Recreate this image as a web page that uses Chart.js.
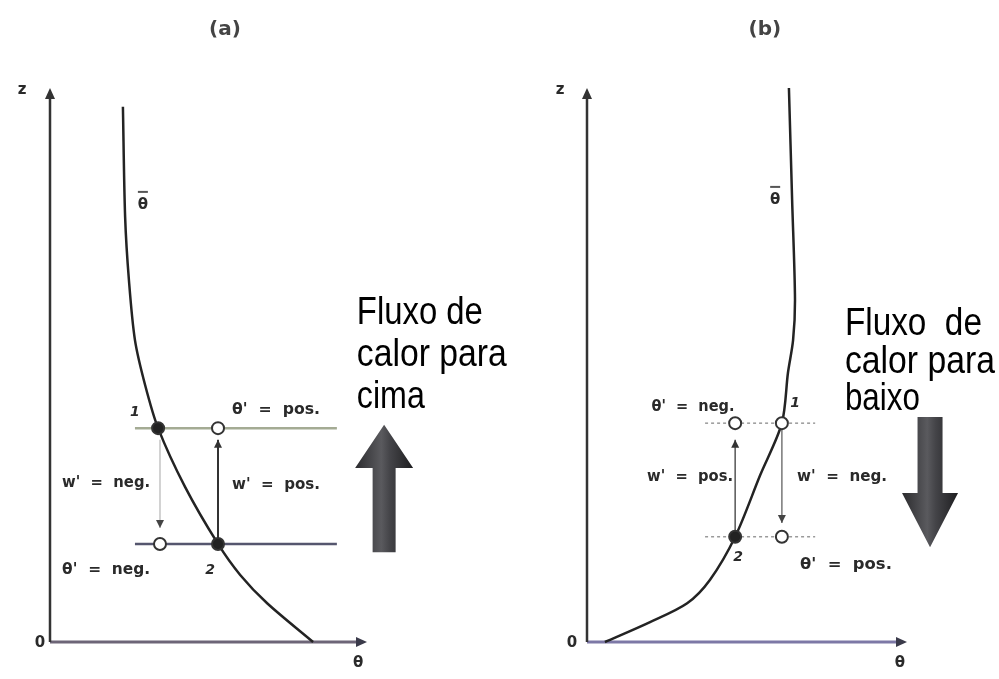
<!DOCTYPE html>
<html lang="pt">
<head>
<meta charset="utf-8">
<title>Fluxo de calor</title>
<script src="https://cdn.jsdelivr.net/npm/chart.js@4.4.1/dist/chart.umd.min.js"></script>
<style>
  html, body { margin: 0; padding: 0; background: #fff; }
  body { width: 999px; height: 679px; position: relative; overflow: hidden; }
  canvas { position: absolute; top: 0; }
  #painel_a { left: 0; }
  #painel_b { left: 500px; }
</style>
</head>
<body>
<canvas id="painel_a" width="530" height="679"></canvas>
<canvas id="painel_b" width="499" height="679"></canvas>
<script>
// valores: theta no eixo x, z no eixo y (escala 0..10)

// painel (a)
const curvaA_theta = [2.30, 2.37, 2.49, 2.68, 3.00, 3.41, 4.26, 5.30, 6.00, 6.85, 8.30];
const curvaA_z     = [9.66, 7.67, 6.53, 5.45, 4.64, 3.86, 2.80, 1.77, 1.21, 0.70, 0.00];
const niveisA = [3.86, 1.77];
const niveisA_theta = [2.68, 9.05];
const parcelasA_theta = [3.41, 5.30, 3.47, 5.30];
const parcelasA_z     = [3.86, 3.86, 1.77, 1.77];
const parcelasA_cheia = [true, false, false, true];
const deslocA_theta = [5.30, 3.47];
const deslocA_de    = [1.77, 3.65];
const deslocA_ate   = [3.65, 2.06];

// painel (b)
const curvaB_theta = [6.31, 6.41, 6.50, 6.44, 6.28, 6.09, 5.41, 4.63, 3.84, 3.13, 1.97, 0.56];
const curvaB_z     = [10.0, 7.98, 6.17, 5.45, 4.86, 3.95, 3.01, 1.90, 1.12, 0.70, 0.36, 0.00];
const niveisB = [3.95, 1.90];
const niveisB_theta = [3.69, 7.13];
const parcelasB_theta = [4.63, 6.09, 4.63, 6.09];
const parcelasB_z     = [3.95, 3.95, 1.90, 1.90];
const parcelasB_cheia = [false, false, true, false];
const deslocB_theta = [4.63, 6.09];
const deslocB_de    = [1.90, 3.95];
const deslocB_ate   = [3.65, 2.15];

const FONTE_PEQ = 'bold 15px "DejaVu Sans"';
const FONTE_NUM = 'italic bold 14px "DejaVu Sans"';
const FONTE_GRANDE = '38px "Liberation Sans"';

function pontos(xs, ys) {
    return xs.map((x, i) => ({x: x, y: ys[i]}));
}

function linha(dados, cor, largura, tracejado) {
    return {
        data: dados,
        showLine: true,
        borderColor: cor,
        borderWidth: largura,
        borderDash: tracejado || [],
        pointRadius: 0,
        tension: 0,
        clip: false
    };
}

function texto(ctx, t, x, y, largura, alinhar) {
    const w = ctx.measureText(t).width;
    const fator = largura ? largura / w : 1;
    ctx.save();
    ctx.translate(x, y);
    ctx.scale(fator, 1);
    ctx.textAlign = 'left';
    ctx.fillText(t, alinhar == 'center' ? -w / 2 : 0, 0);
    ctx.restore();
}

function cabecaSeta(ctx, x, y, dir, meia, comp) {
    ctx.beginPath();
    ctx.moveTo(x, y);
    if (dir == 'cima') { ctx.lineTo(x - meia, y + comp); ctx.lineTo(x + meia, y + comp); }
    if (dir == 'baixo') { ctx.lineTo(x - meia, y - comp); ctx.lineTo(x + meia, y - comp); }
    if (dir == 'direita') { ctx.lineTo(x - comp, y - meia); ctx.lineTo(x - comp, y + meia); }
    ctx.closePath();
    ctx.fill();
}

function setaGrande(ctx, cx, yPonta, yCabeca, yFim, meiaHaste, meiaCabeca) {
    const grad = ctx.createLinearGradient(cx - meiaCabeca, 0, cx + meiaCabeca, 0);
    grad.addColorStop(0, '#2b2b2e');
    grad.addColorStop(0.45, '#5a5a5e');
    grad.addColorStop(0.6, '#444448');
    grad.addColorStop(1, '#1e1e20');
    ctx.fillStyle = grad;
    ctx.beginPath();
    ctx.moveTo(cx, yPonta);
    ctx.lineTo(cx + meiaCabeca, yCabeca);
    ctx.lineTo(cx + meiaHaste, yCabeca);
    ctx.lineTo(cx + meiaHaste, yFim);
    ctx.lineTo(cx - meiaHaste, yFim);
    ctx.lineTo(cx - meiaHaste, yCabeca);
    ctx.lineTo(cx - meiaCabeca, yCabeca);
    ctx.closePath();
    ctx.fill();
}

const pluginDesenho = {
    id: 'desenho',
    afterDatasetsDraw(chart, args, op) {
        const ctx = chart.ctx;
        const X = v => chart.scales.x.getPixelForValue(v);
        const Y = v => chart.scales.y.getPixelForValue(v);
        ctx.save();

        // pontas dos eixos
        ctx.fillStyle = '#333';
        cabecaSeta(ctx, X(0), Y(10), 'cima', 5, 11);
        ctx.fillStyle = '#3a3a4a';
        cabecaSeta(ctx, X(10), Y(0), 'direita', 5, 11);

        // pontas dos deslocamentos
        op.deslocamentos.forEach(d => {
            ctx.fillStyle = d.cor;
            cabecaSeta(ctx, X(d.theta), Y(d.ate), d.ate > d.de ? 'cima' : 'baixo', 4, 8);
        });

        // seta do fluxo de calor
        const s = op.seta;
        setaGrande(ctx, X(s.x), Y(s.ponta), Y(s.cabeca), Y(s.fim), s.meiaHaste, s.meiaCabeca);

        // rotulos
        op.rotulos.forEach(r => {
            ctx.font = r.fonte || FONTE_PEQ;
            ctx.fillStyle = r.cor || '#2a2a2a';
            ctx.textBaseline = r.base || 'middle';
            texto(ctx, r.t, X(r.x), Y(r.y), r.largura, r.alinhar || 'center');
            if (r.barra) {
                ctx.strokeStyle = '#555';
                ctx.lineWidth = 2;
                ctx.beginPath();
                ctx.moveTo(X(r.x) - 5, Y(r.y) - 13);
                ctx.lineTo(X(r.x) + 5, Y(r.y) - 13);
                ctx.stroke();
            }
        });
        ctx.restore();
    }
};

function montarPainel(id, cfg) {
    const datasets = [
        {
            data: pontos(cfg.parcelasTheta, cfg.parcelasZ),
            showLine: false,
            pointRadius: 6,
            pointBorderWidth: 2,
            pointBorderColor: '#333',
            pointBackgroundColor: cfg.parcelasCheia.map(c => c ? '#222' : '#fff'),
            clip: false
        },
        Object.assign(linha(pontos(cfg.curvaTheta, cfg.curvaZ), '#232323', 2.5), {tension: 0.3}),
        linha([{x: cfg.deslocTheta[0], y: cfg.deslocDe[0]}, {x: cfg.deslocTheta[0], y: cfg.deslocAte[0]}], cfg.corDesloc[0], cfg.largDesloc[0]),
        linha([{x: cfg.deslocTheta[1], y: cfg.deslocDe[1]}, {x: cfg.deslocTheta[1], y: cfg.deslocAte[1]}], cfg.corDesloc[1], cfg.largDesloc[1]),
        linha([{x: cfg.niveisTheta[0], y: cfg.niveis[0]}, {x: cfg.niveisTheta[1], y: cfg.niveis[0]}], cfg.corNiveis[0], cfg.largNiveis, cfg.tracoNiveis),
        linha([{x: cfg.niveisTheta[0], y: cfg.niveis[1]}, {x: cfg.niveisTheta[1], y: cfg.niveis[1]}], cfg.corNiveis[1], cfg.largNiveis, cfg.tracoNiveis),
        linha([{x: 0, y: 0}, {x: 0, y: 9.8}], '#333', 2.5),
        linha([{x: 0, y: 0}, {x: 9.8, y: 0}], cfg.corEixoX, 3)
    ];

    return new Chart(document.getElementById(id), {
        type: 'scatter',
        data: {datasets: datasets},
        options: {
            responsive: false,
            animation: false,
            events: [],
            layout: {padding: cfg.padding},
            plugins: {
                legend: {display: false},
                tooltip: {enabled: false},
                desenho: cfg.desenho
            },
            scales: {
                x: {type: 'linear', min: 0, max: 10, display: false},
                y: {type: 'linear', min: 0, max: 10, display: false}
            }
        },
        plugins: [pluginDesenho]
    });
}

document.addEventListener('DOMContentLoaded', () => {
    montarPainel('painel_a', {
        padding: {left: 50, right: 163, top: 88, bottom: 37},
        curvaTheta: curvaA_theta, curvaZ: curvaA_z,
        niveis: niveisA, niveisTheta: niveisA_theta,
        corNiveis: ['#a4ab94', '#55566e'], largNiveis: 2.5, tracoNiveis: [],
        parcelasTheta: parcelasA_theta, parcelasZ: parcelasA_z, parcelasCheia: parcelasA_cheia,
        deslocTheta: deslocA_theta, deslocDe: deslocA_de, deslocAte: deslocA_ate,
        corDesloc: ['#333', '#c4c4c4'], largDesloc: [2, 1.5],
        corEixoX: '#6d6577',
        desenho: {
            deslocamentos: [
                {theta: deslocA_theta[0], de: deslocA_de[0], ate: deslocA_ate[0], cor: '#333'},
                {theta: deslocA_theta[1], de: deslocA_de[1], ate: deslocA_ate[1], cor: '#444'}
            ],
            seta: {x: 10.54, ponta: 3.92, cabeca: 3.14, fim: 1.62, meiaHaste: 11.5, meiaCabeca: 29},
            rotulos: [
                {t: '(a)', x: 5.52, y: 11.05, fonte: 'bold 20px "DejaVu Sans"', cor: '#444'},
                {t: 'z', x: -0.88, y: 9.96},
                {t: '0', x: -0.32, y: -0.02},
                {t: 'θ', x: 9.72, y: -0.38},
                {t: 'θ', x: 2.93, y: 7.89, barra: true},
                {t: '1', x: 2.68, y: 4.15, fonte: FONTE_NUM},
                {t: "θ'  =  pos.", x: 7.13, y: 4.19, largura: 88},
                {t: "w'  =  pos.", x: 7.13, y: 2.83, largura: 88},
                {t: "w'  =  neg.", x: 1.77, y: 2.87, largura: 88},
                {t: "θ'  =  neg.", x: 1.77, y: 1.30, largura: 88},
                {t: '2', x: 5.05, y: 1.30, fonte: FONTE_NUM},
                {t: 'Fluxo de', x: 9.68, y: 5.74, largura: 126, alinhar: 'left', base: 'alphabetic', fonte: FONTE_GRANDE, cor: '#000'},
                {t: 'calor para', x: 9.68, y: 4.98, largura: 150, alinhar: 'left', base: 'alphabetic', fonte: FONTE_GRANDE, cor: '#000'},
                {t: 'cima', x: 9.68, y: 4.22, largura: 68, alinhar: 'left', base: 'alphabetic', fonte: FONTE_GRANDE, cor: '#000'}
            ]
        }
    });

    montarPainel('painel_b', {
        padding: {left: 87, right: 92, top: 88, bottom: 37},
        curvaTheta: curvaB_theta, curvaZ: curvaB_z,
        niveis: niveisB, niveisTheta: niveisB_theta,
        corNiveis: ['#9a9a9a', '#9a9a9a'], largNiveis: 1.5, tracoNiveis: [3, 3],
        parcelasTheta: parcelasB_theta, parcelasZ: parcelasB_z, parcelasCheia: parcelasB_cheia,
        deslocTheta: deslocB_theta, deslocDe: deslocB_de, deslocAte: deslocB_ate,
        corDesloc: ['#555', '#777'], largDesloc: [1.5, 1.5],
        corEixoX: '#7d78a6',
        desenho: {
            deslocamentos: [
                {theta: deslocB_theta[0], de: deslocB_de[0], ate: deslocB_ate[0], cor: '#333'},
                {theta: deslocB_theta[1], de: deslocB_de[1], ate: deslocB_ate[1], cor: '#444'}
            ],
            seta: {x: 10.72, ponta: 1.71, cabeca: 2.69, fim: 4.06, meiaHaste: 12.5, meiaCabeca: 28},
            rotulos: [
                {t: '(b)', x: 5.56, y: 11.05, fonte: 'bold 20px "DejaVu Sans"', cor: '#444'},
                {t: 'z', x: -0.84, y: 9.96},
                {t: '0', x: -0.47, y: -0.02},
                {t: 'θ', x: 9.78, y: -0.38},
                {t: 'θ', x: 5.88, y: 7.98, barra: true},
                {t: '1', x: 6.5, y: 4.31, fonte: FONTE_NUM},
                {t: "θ'  =  neg.", x: 3.31, y: 4.24, largura: 83},
                {t: "w'  =  pos.", x: 3.22, y: 2.98, largura: 86},
                {t: "w'  =  neg.", x: 7.97, y: 2.98, largura: 90},
                {t: "θ'  =  pos.", x: 8.09, y: 1.39, largura: 92},
                {t: '2', x: 4.72, y: 1.53, fonte: FONTE_NUM},
                {t: 'Fluxo  de', x: 8.06, y: 5.54, largura: 137, alinhar: 'left', base: 'alphabetic', fonte: FONTE_GRANDE, cor: '#000'},
                {t: 'calor para', x: 8.06, y: 4.86, largura: 150, alinhar: 'left', base: 'alphabetic', fonte: FONTE_GRANDE, cor: '#000'},
                {t: 'baixo', x: 8.06, y: 4.19, largura: 75, alinhar: 'left', base: 'alphabetic', fonte: FONTE_GRANDE, cor: '#000'}
            ]
        }
    });
});
</script>
</body>
</html>
